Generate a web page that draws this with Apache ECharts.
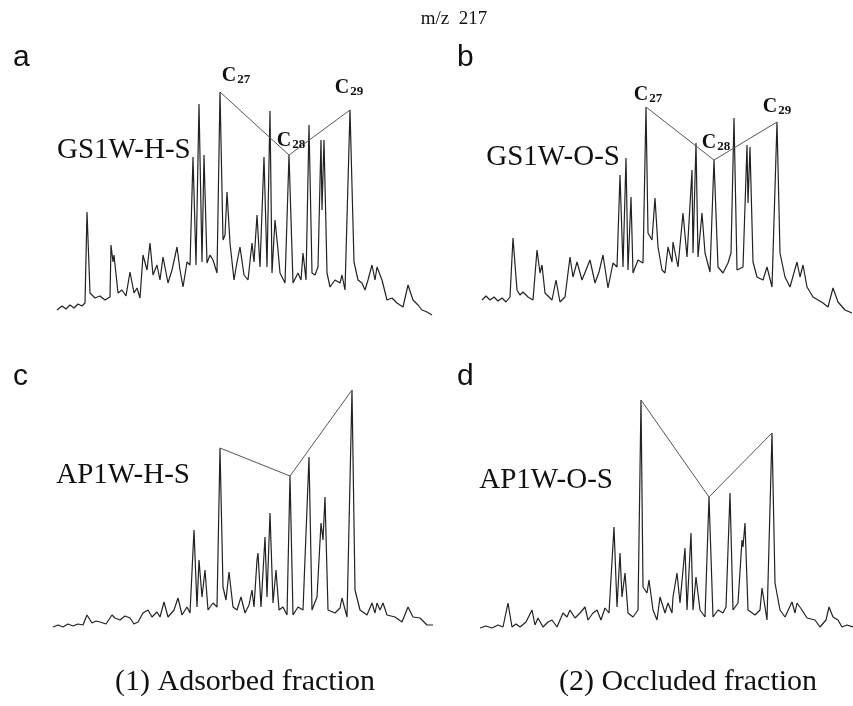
<!DOCTYPE html>
<html>
<head>
<meta charset="utf-8">
<script src="https://cdn.jsdelivr.net/npm/echarts@6/dist/echarts.min.js"></script>
<style>
  html, body { margin: 0; padding: 0; background: #fff; }
  #chart { width: 853px; height: 706px; }
</style>
</head>
<body>
<div id="chart"></div>
<script>
// m/z 217 chromatograms: scan position and relative abundance
// a: GS1W-H-S
const aScan = [57,62,66,70,74,78,82,85,87,90,95,100,105,110,111,113,114,118,122,126,130,134,137,140,143,147,150,153,157,160,163,168,172,177,180,183,187,190,193,196,199,202,204,207,210,213,217,220,223,225,227,230,234,237,240,244,248,252,254,257,260,264,267,270,272,275,278,280,285,289,293,298,301,303,306,309,312,315,318,321,322,324,327,330,335,340,342,345,350,354,358,362,365,368,372,375,377,382,387,392,397,403,408,413,418,422,427,432];
const aAbund = [10,14,11,15,12,16,14,17,108,27,22,24,20,23,75,58,65,27,30,24,48,27,32,22,65,50,77,45,55,40,63,37,50,73,50,33,58,55,163,55,216,58,165,57,65,60,47,228,80,85,128,77,40,58,73,45,40,77,58,105,53,163,53,209,47,100,70,47,37,165,37,47,40,67,40,195,47,45,53,180,110,180,47,33,40,37,45,30,210,58,40,37,30,40,55,40,53,40,20,22,17,13,35,20,15,10,8,5];

// b: GS1W-O-S
const bScan = [482,486,490,494,498,502,506,510,513,517,520,523,528,533,537,540,542,545,549,552,556,560,565,570,573,577,582,586,590,595,599,603,608,613,617,620,623,626,628,631,633,638,643,646,648,652,655,658,662,665,668,672,673,678,683,687,692,693,696,698,702,705,710,714,718,723,728,731,734,737,743,747,748,750,753,757,763,767,772,777,780,785,790,797,800,803,807,813,818,823,828,833,838,845,852];
const bAbund = [20,24,20,23,19,22,18,23,82,30,25,28,23,20,70,47,55,27,23,20,40,18,23,63,43,58,40,50,60,37,48,65,32,57,53,145,53,162,50,123,47,60,57,213,87,80,122,73,50,47,73,58,78,53,107,63,150,67,177,63,107,67,48,160,53,47,57,67,202,50,53,175,117,173,58,43,40,53,33,198,67,43,33,58,43,55,33,23,20,17,13,32,18,10,7];

// c: AP1W-H-S
const cScan = [53,58,63,68,73,78,83,87,92,96,100,106,112,115,120,125,130,134,138,143,148,152,157,160,164,168,174,178,182,187,190,194,197,199,202,205,208,213,217,220,223,226,229,233,237,241,245,249,252,254,257,258,261,265,267,270,273,276,279,283,287,290,293,298,303,309,312,317,321,323,325,328,335,340,342,347,352,355,360,367,372,375,377,380,383,387,395,402,408,413,420,427,433];
const cAbund = [13,15,13,16,14,16,15,25,17,19,18,16,25,22,20,24,22,16,18,27,30,23,28,23,38,23,30,42,25,33,27,110,33,80,43,70,30,37,33,192,53,40,68,33,30,43,27,35,50,33,80,87,33,103,43,127,37,70,30,33,25,164,25,33,30,183,30,43,117,100,143,30,27,32,42,23,250,50,30,25,37,27,37,30,37,25,23,18,33,23,22,15,15];

// d: AP1W-O-S
const dScan = [480,486,492,498,503,508,512,516,520,526,532,535,538,543,548,552,557,563,567,570,575,580,585,588,593,597,601,605,609,614,617,620,622,625,628,633,638,641,643,647,649,653,657,660,665,668,672,673,677,680,685,687,691,693,696,700,705,709,713,718,723,726,730,733,738,742,743,745,748,755,760,762,767,772,775,780,785,792,795,797,802,807,815,820,826,829,833,838,842,847,853];
const dAbund = [12,14,12,15,13,37,13,16,13,18,30,15,22,13,18,20,13,27,23,30,22,27,33,20,27,30,20,32,27,113,33,87,43,67,27,23,30,240,53,47,60,30,20,43,27,37,27,43,67,37,92,30,107,30,63,30,23,143,23,30,27,33,147,30,37,100,93,117,30,25,30,52,20,207,57,30,23,38,27,37,30,22,20,13,20,33,23,20,13,15,13];

// sterane peaks joined by lines (scan positions) and carbon numbers
const carbonNums = ['27', '28', '29'];
const aPeaks = [220, 289, 350];
const bPeaks = [646, 714, 777];
const cPeaks = [220, 290, 352];
const dPeaks = [641, 709, 772];

const sampleNames = ['GS1W-H-S', 'GS1W-O-S', 'AP1W-H-S', 'AP1W-O-S'];
const panelLetters = ['a', 'b', 'c', 'd'];
const fractionNames = ['(1) Adsorbed fraction', '(2) Occluded fraction'];

const chart = echarts.init(document.getElementById('chart'));

const panels = [
  { scan: aScan, abund: aAbund, peaks: aPeaks, labels: true,
    grid: { left: 50, top: 80, width: 385, height: 240 }, x: [50, 435], y: 240,
    offs: [[16, -6], [2, -4], [-1, -12]] },
  { scan: bScan, abund: bAbund, peaks: bPeaks, labels: true,
    grid: { left: 478, top: 80, width: 375, height: 240 }, x: [478, 853], y: 240,
    offs: [[2, -2], [2, -7], [0, -5]] },
  { scan: cScan, abund: cAbund, peaks: cPeaks, labels: false,
    grid: { left: 50, top: 380, width: 385, height: 260 }, x: [50, 435], y: 260 },
  { scan: dScan, abund: dAbund, peaks: dPeaks, labels: false,
    grid: { left: 478, top: 380, width: 375, height: 260 }, x: [478, 853], y: 260 }
];

const grids = [], xAxes = [], yAxes = [], series = [];
panels.forEach((p, i) => {
  grids.push(p.grid);
  xAxes.push({ type: 'value', gridIndex: i, min: p.x[0], max: p.x[1], show: false });
  yAxes.push({ type: 'value', gridIndex: i, min: 0, max: p.y, show: false });
  series.push({
    type: 'line', xAxisIndex: i, yAxisIndex: i, symbol: 'none', silent: true,
    lineStyle: { color: '#222', width: 1.2 },
    data: p.scan.map((s, k) => [s, p.abund[k]])
  });
  // connector through C27 - C28 - C29 apexes
  series.push({
    type: 'line', xAxisIndex: i, yAxisIndex: i, symbol: 'circle', symbolSize: 0.1, silent: true,
    lineStyle: { color: '#555', width: 1 },
    data: p.peaks.map((s, k) => ({
      value: [s, p.abund[p.scan.indexOf(s)]],
      label: p.labels ? {
        show: true, position: 'top', distance: 0, offset: p.offs[k],
        formatter: '{c|C}{n|' + carbonNums[k] + '}',
        rich: {
          c: { fontFamily: 'Liberation Serif', fontWeight: 'bold', fontSize: 20, color: '#111', verticalAlign: 'bottom' },
          n: { fontFamily: 'Liberation Serif', fontWeight: 'bold', fontSize: 13, color: '#111', verticalAlign: 'bottom', padding: [0, 0, 0, 1] }
        }
      } : { show: false }
    }))
  });
});

const serif = 'Liberation Serif';
const sans = 'Liberation Sans';
const txt = (text, x, y, size, family, align) => ({
  type: 'text', x: x, y: y,
  style: { text: text, fontSize: size, fontFamily: family, fill: '#111', align: align || 'left', verticalAlign: 'middle' }
});

chart.setOption({
  animation: false,
  grid: grids,
  xAxis: xAxes,
  yAxis: yAxes,
  series: series,
  graphic: [
    txt('m/z  217', 454, 19, 19, serif, 'center'),
    txt(panelLetters[0], 13, 58, 30, sans),
    txt(panelLetters[1], 457, 58, 30, sans),
    txt(panelLetters[2], 13, 377, 30, sans),
    txt(panelLetters[3], 457, 377, 30, sans),
    txt(sampleNames[0], 57, 150, 29, serif),
    txt(sampleNames[1], 620, 157, 29, serif, 'right'),
    txt(sampleNames[2], 190, 475, 29, serif, 'right'),
    txt(sampleNames[3], 613, 480, 29, serif, 'right'),
    txt(fractionNames[0], 245, 682, 30, serif, 'center'),
    txt(fractionNames[1], 688, 682, 30, serif, 'center')
  ]
});
</script>
</body>
</html>
